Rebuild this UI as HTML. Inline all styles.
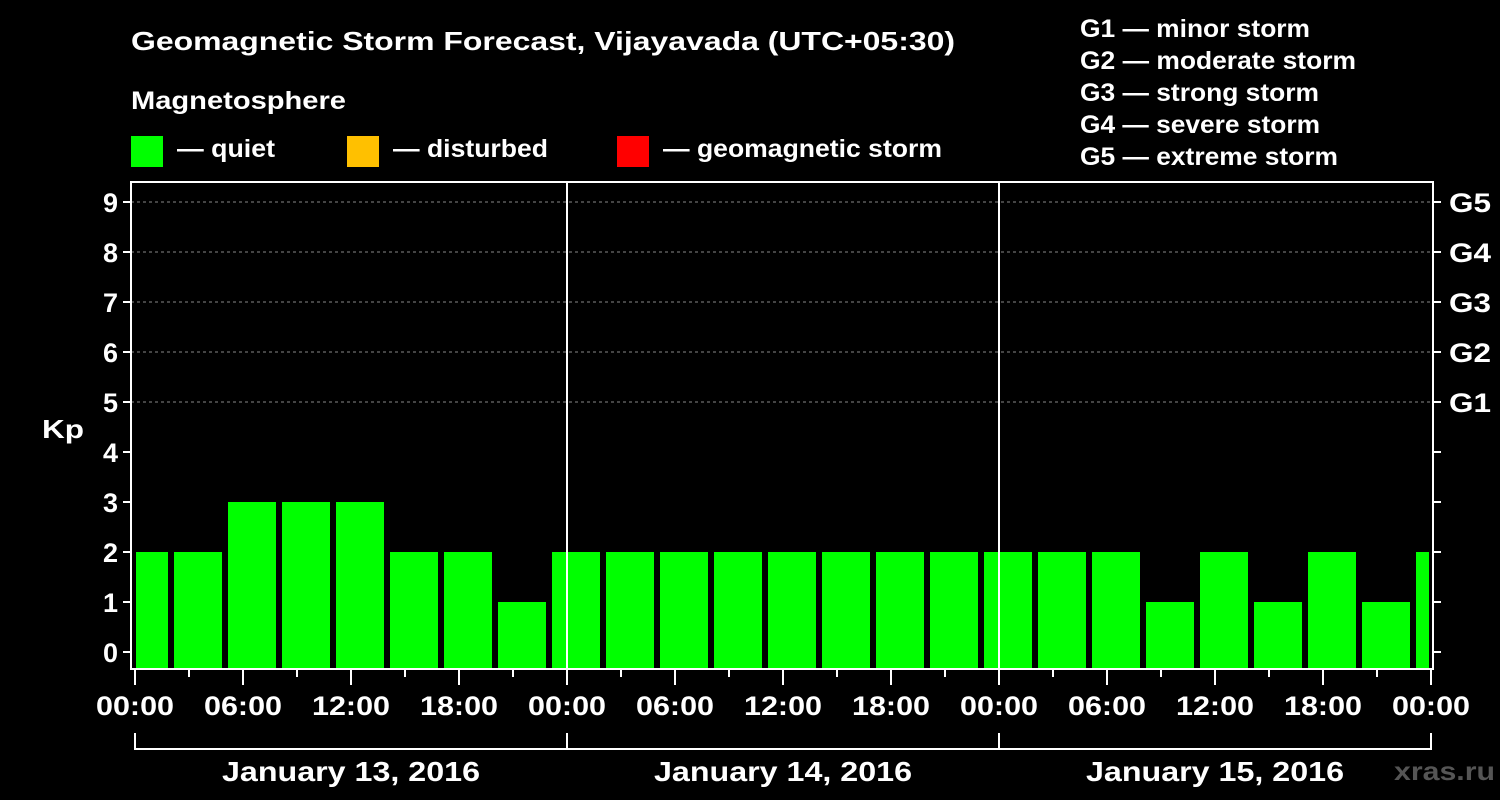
<!DOCTYPE html>
<html><head><meta charset="utf-8"><style>
body{margin:0;background:#000;}
svg{display:block;font-family:"Liberation Sans",Arial,sans-serif;font-weight:bold;}
</style></head><body>
<svg id="chart" width="1500" height="800">
<rect width="1500" height="800" fill="#000"/>
<text x="131" y="50" fill="#fff" font-size="26" textLength="824" lengthAdjust="spacingAndGlyphs">Geomagnetic Storm Forecast, Vijayavada (UTC+05:30)</text>
<text x="131" y="109" fill="#fff" font-size="25" textLength="215" lengthAdjust="spacingAndGlyphs">Magnetosphere</text>
<g><rect x="131" y="136" width="32" height="31" fill="#00ff00"/><text x="177" y="157" fill="#fff" font-size="25" textLength="98" lengthAdjust="spacingAndGlyphs">— quiet</text></g>
<g><rect x="347" y="136" width="32" height="31" fill="#ffc000"/><text x="393" y="157" fill="#fff" font-size="25" textLength="155" lengthAdjust="spacingAndGlyphs">— disturbed</text></g>
<g><rect x="617" y="136" width="32" height="31" fill="#ff0000"/><text x="663" y="157" fill="#fff" font-size="25" textLength="279" lengthAdjust="spacingAndGlyphs">— geomagnetic storm</text></g>
<g fill="#fff" font-size="25">
<text x="1080" y="37" textLength="230" lengthAdjust="spacingAndGlyphs">G1 — minor storm</text>
<text x="1080" y="69" textLength="276" lengthAdjust="spacingAndGlyphs">G2 — moderate storm</text>
<text x="1080" y="101" textLength="239" lengthAdjust="spacingAndGlyphs">G3 — strong storm</text>
<text x="1080" y="133" textLength="240" lengthAdjust="spacingAndGlyphs">G4 — severe storm</text>
<text x="1080" y="165" textLength="258" lengthAdjust="spacingAndGlyphs">G5 — extreme storm</text>
</g>
<text x="42" y="438" fill="#fff" font-size="26" textLength="42" lengthAdjust="spacingAndGlyphs">Kp</text>
<g id="plot"></g>
<text x="1394" y="780" fill="#555" font-size="26" textLength="101" lengthAdjust="spacingAndGlyphs">xras.ru</text>
</svg>
<script>
const kpValues=[2,2,3,3,3,2,2,1,2,2,2,2,2,2,2,2,2,2,2,1,2,1,2,1,2];
const barStartHours=[0,2,5,8,11,14,17,20,23,26,29,32,35,38,41,44,47,50,53,56,59,62,65,68,71];
const dayLabels=["January 13, 2016","January 14, 2016","January 15, 2016"];
const hourLabels=["00:00","06:00","12:00","18:00"];
const gLabels=["G1","G2","G3","G4","G5"];
const NS="http://www.w3.org/2000/svg";
const plotG=document.getElementById('plot');
const x0=135,pxH=18,totalH=72;
const X=h=>x0+h*pxH;
const Y=v=>652-50*v;
const plotTop=182,plotBot=669,plotL=131,plotR=1433;
function mk(t,a,txt){const e=document.createElementNS(NS,t);for(const k in a)e.setAttribute(k,a[k]);if(txt!==undefined)e.textContent=txt;plotG.appendChild(e);return e;}
for(let v=5;v<=9;v++){const e=mk('line',{x1:plotL,x2:plotR,y1:Y(v),y2:Y(v),stroke:'#888','stroke-dasharray':'3,3','stroke-width':1});

}
kpValues.forEach((v,i)=>{const s=barStartHours[i];const e2=i+1<barStartHours.length?barStartHours[i+1]:totalH;
const xa=i===0?X(s)+1:X(s)+3;const xb=i===kpValues.length-1?X(e2)-2:X(e2)-3;
const r=mk('rect',{x:xa,y:Y(v),width:xb-xa,height:plotBot-Y(v),fill:v>=5?'#ff0000':(v>=4?'#ffc000':'#00ff00')});

});
for(let d=1;d<3;d++){const e=mk('line',{x1:X(24*d),x2:X(24*d),y1:plotTop,y2:plotBot,stroke:'#fff','stroke-width':2});

}
const fr=mk('rect',{x:plotL,y:plotTop,width:plotR-plotL,height:plotBot-plotTop,fill:'none',stroke:'#fff','stroke-width':2});


for(let v=0;v<=9;v++){mk('line',{x1:plotL-8,x2:plotL,y1:Y(v),y2:Y(v),stroke:'#fff','stroke-width':2});
mk('line',{x1:plotR,x2:plotR+8,y1:Y(v),y2:Y(v),stroke:'#fff','stroke-width':2});
const t=mk('text',{x:118,y:Y(v)+10,fill:'#fff','font-size':27,'text-anchor':'end'},String(v));

}
gLabels.forEach((l,i)=>{const t=mk('text',{x:1449,y:Y(i+5)+10,fill:'#fff','font-size':27,textLength:42,lengthAdjust:'spacingAndGlyphs'},l);

});
for(let h=0;h<=totalH;h+=3){const major=h%6===0;mk('line',{x1:X(h),x2:X(h),y1:plotBot,y2:plotBot+(major?16:8),stroke:'#fff','stroke-width':2});
if(major){const t=mk('text',{x:X(h)-39,y:715,fill:'#fff','font-size':27,textLength:78,lengthAdjust:'spacingAndGlyphs'},hourLabels[(h%24)/6]);

}}
const br=mk('path',{d:`M${X(0)},733V749H${X(72)}V733M${X(24)},733V749M${X(48)},733V749`,stroke:'#fff','stroke-width':2,fill:'none'});


dayLabels.forEach((l,i)=>{const t=mk('text',{x:X(24*i+12)-129,y:781,fill:'#fff','font-size':28,textLength:258,lengthAdjust:'spacingAndGlyphs'},l);

});
</script>
</body></html>
